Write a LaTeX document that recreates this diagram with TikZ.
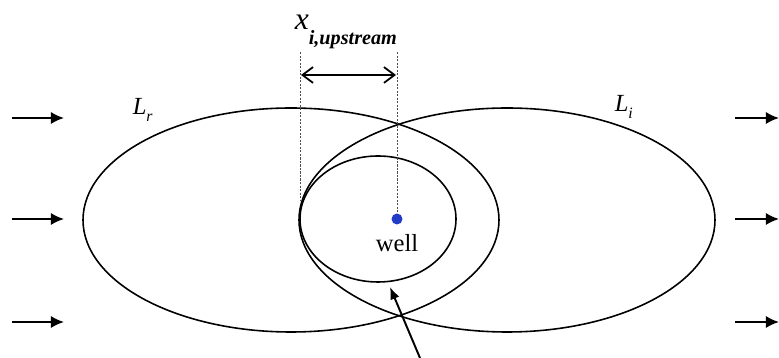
\documentclass[tikz,border=0pt]{standalone}
\usepackage{fontspec}
\setmainfont{Liberation Serif}
\usetikzlibrary{arrows.meta}
\definecolor{wellblue}{RGB}{35,60,200}
\tikzset{
  flow/.style={line width=1.1pt, -{Latex[length=7.5pt,width=7pt]}},
  guide/.style={line width=0.45pt, black!70, dash pattern=on 1.2pt off 0.8pt},
  lbl/.style={inner sep=0pt}
}
\begin{document}
\begin{tikzpicture}[x=0.02cm, y=0.02cm, line width=0.9pt]
  \useasboundingbox (0,0) rectangle (779,358);
  % 两个大椭圆：L_r（左）和 L_i（右）
  \draw (291,138) ellipse [x radius=208, y radius=112];
  \draw (507,138) ellipse [x radius=208, y radius=112];
  % 井周围的小椭圆
  \draw (378,139) ellipse [x radius=78, y radius=63];
  % 井
  \node[circle, fill=wellblue, inner sep=0pt, minimum size=0.22cm] (well) at (397,139) {};
  \node[lbl] (welltext) at (397,115) {\fontsize{14}{16}\selectfont well};
  % 上游距离的虚线与双箭头
  \coordinate (gL1) at (300,306);
  \coordinate (gL2) at (300,158);
  \coordinate (gR1) at (397,306);
  \draw[guide] (gL1) -- (gL2);
  \draw[guide] (gR1) -- (well.north);
  \coordinate (xa) at (301,283);
  \coordinate (xb) at (396,283);
  \draw[line width=1pt, {Straight Barb[length=6pt,width=9pt]}-{Straight Barb[length=6pt,width=9pt]}] (xa) -- (xb);
  \node[lbl, anchor=base west] (xup) at (294,328)
    {\fontsize{18}{18}\selectfont\itshape x\raisebox{-1.0ex}{\fontsize{11.5}{12}\selectfont\bfseries i,upstream}};
  % 标记
  \node[lbl, anchor=base west] (Lr) at (132,243)
    {\fontsize{14}{16}\selectfont\itshape L\raisebox{-0.6ex}{\fontsize{9}{10}\selectfont r}};
  \node[lbl, anchor=base west] (Li) at (614,246)
    {\fontsize{14}{16}\selectfont\itshape L\raisebox{-0.6ex}{\fontsize{9}{10}\selectfont i}};
  % 水流方向箭头
  \foreach \yy in {240,139,36} {
    \coordinate (inA\yy) at (12,\yy);
    \coordinate (inB\yy) at (64,\yy);
    \coordinate (outA\yy) at (735,\yy);
    \coordinate (outB\yy) at (779,\yy);
    \draw[flow] (inA\yy) -- (inB\yy);
    \draw[flow] (outA\yy) -- (outB\yy);
  }
  % 指向小椭圆的箭头
  \coordinate (ptail) at (420,0);
  \coordinate (ptip) at (390,71);
  \draw[line width=1.1pt, -{Latex[length=7pt,width=5.5pt]}] (ptail) -- (ptip);
\end{tikzpicture}
\end{document}
